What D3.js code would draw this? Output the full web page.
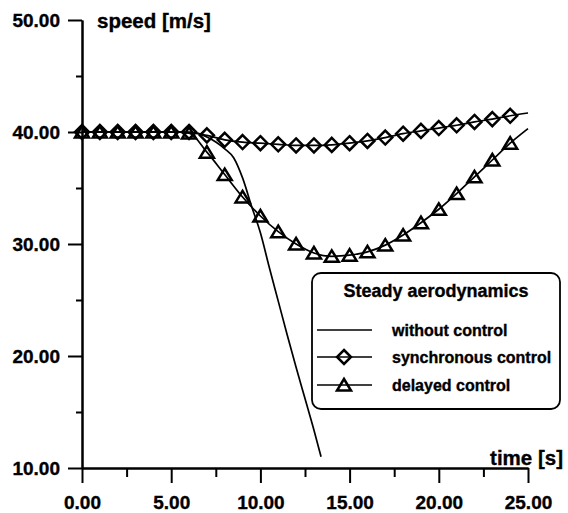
<!DOCTYPE html>
<html><head><meta charset="utf-8">
<script src="https://cdn.jsdelivr.net/npm/d3@7"></script>
<style>
body{margin:0;background:#fff}
svg{display:block}
text{font-family:"Liberation Sans",Arial,Helvetica,sans-serif;font-weight:bold;fill:#000;stroke:#000;stroke-width:0.35px}
</style>
</head><body>
<svg id="c" width="568" height="513"></svg>
<script>
// ---- data ----
const timeSteps = [0,1,2,3,4,5,6,7,8,9,10,11,12,13,14,15,16,17,18,19,20,21,22,23,24,25];
const synchronousControl = [40,40,40,40,40,40,40,39.7,39.3,39.1,39.0,38.9,38.8,38.8,38.85,39.0,39.2,39.5,39.85,40.1,40.35,40.6,40.9,41.15,41.45,41.7];
const delayedControl = [40,40,40,40,40,40,39.9,38.2,36.2,34.2,32.5,31.1,30.0,29.2,28.9,29.0,29.3,29.9,30.8,31.9,33.1,34.5,36.0,37.5,39.0,40.3];
const withoutControlTime = [0,1,2,3,4,5,6,6.5,7,7.5,8,8.5,9,9.5,10,10.5,11,11.5,12,12.5,13,13.4];
const withoutControlSpeed = [40,40,40,40,40,40,39.95,39.85,39.55,39.1,38.5,37.7,35.9,33.4,31.0,27.9,24.9,21.9,19.0,16.2,13.4,11.0];
const markerMaxTime = 24;
const xTicks = [0,5,10,15,20,25];
const xMinorTicks = [2.5,7.5,12.5,17.5,22.5];
const yTicks = [10,20,30,40,50];
const yMinorTicks = [15,25,35,45];
const legendTitle = "Steady aerodynamics";
const legendLabels = ["without control","synchronous control","delayed control"];
const xTitle = "time [s]";
const yTitle = "speed [m/s]";

// ---- drawing ----
const svg = d3.select("#c");
const x = d3.scaleLinear().domain([0,25]).range([82,528]);
const y = d3.scaleLinear().domain([10,50]).range([468,20]);
const fmt = d3.format(".2f");

function styleAxis(g){
  g.selectAll("path,line").attr("stroke","#000").attr("stroke-width",2);
  g.selectAll("text").style("font-size","19px").attr("fill","#000");
}
// minor ticks
svg.append("g").attr("transform",`translate(${x(0)},0)`)
  .call(d3.axisLeft(y).tickValues(yMinorTicks).tickSize(6).tickSizeOuter(0).tickFormat(""))
  .call(styleAxis);
svg.append("g").attr("transform",`translate(0,${y(10)})`)
  .call(d3.axisBottom(x).tickValues(xMinorTicks).tickSize(9).tickSizeOuter(0).tickFormat(""))
  .call(styleAxis);
// major axes
svg.append("g").attr("transform",`translate(${x(0)},0)`)
  .call(d3.axisLeft(y).tickValues(yTicks).tickSize(14).tickSizeOuter(0).tickPadding(8).tickFormat(fmt))
  .call(styleAxis);
svg.append("g").attr("transform",`translate(0,${y(10)})`)
  .call(d3.axisBottom(x).tickValues(xTicks).tickSize(15).tickSizeOuter(0).tickPadding(13).tickFormat(fmt))
  .call(styleAxis);

// axis titles
svg.append("text").attr("x",97).attr("y",28).style("font-size","20.5px").text(yTitle);
svg.append("text").attr("x",563).attr("y",465).attr("text-anchor","end").style("font-size","20.5px").text(xTitle);

const line = d3.line().x(d=>x(d[0])).y(d=>y(d[1])).curve(d3.curveMonotoneX);
const sync = timeSteps.map((t,i)=>[t,synchronousControl[i]]);
const delayed = timeSteps.map((t,i)=>[t,delayedControl[i]]);
const without = withoutControlTime.map((t,i)=>[t,withoutControlSpeed[i]]);

const plot = svg.append("g");
[without,sync,delayed].forEach(s=>{
  plot.append("path").attr("d",line(s)).attr("fill","none").attr("stroke","#000").attr("stroke-width",1.7);
});

const diamondPath = "M0,-7L7,0L0,7L-7,0Z";
const trianglePath = "M0,-6L7,5.5L-7,5.5Z";
function drawMarkers(data,p){
  plot.selectAll(null).data(data.filter(d=>d[0]<=markerMaxTime)).enter().append("path")
    .attr("d",p).attr("transform",d=>`translate(${x(d[0])},${y(d[1])})`)
    .attr("fill","none").attr("stroke","#000").attr("stroke-width",2.5);
}
drawMarkers(sync,diamondPath);
drawMarkers(delayed,trianglePath);

// legend
const lg = svg.append("g");
lg.append("rect").attr("x",312).attr("y",273).attr("width",248).attr("height",136)
  .attr("rx",9).attr("fill","#fff").attr("stroke","#000").attr("stroke-width",1.8);
lg.append("text").attr("x",436).attr("y",297).attr("text-anchor","middle").style("font-size","18px").text(legendTitle);
const rowsY = [330,357,385];
const rowMarkers = [null,diamondPath,trianglePath];
legendLabels.forEach((lab,i)=>{
  lg.append("line").attr("x1",317).attr("x2",372).attr("y1",rowsY[i]).attr("y2",rowsY[i])
    .attr("stroke","#000").attr("stroke-width",1.7);
  if(rowMarkers[i]) lg.append("path").attr("d",rowMarkers[i]).attr("transform",`translate(344,${rowsY[i]})`)
    .attr("fill","none").attr("stroke","#000").attr("stroke-width",2.5);
  lg.append("text").attr("x",392).attr("y",rowsY[i]+6).style("font-size","16px").text(lab);
});
</script>
</body></html>
